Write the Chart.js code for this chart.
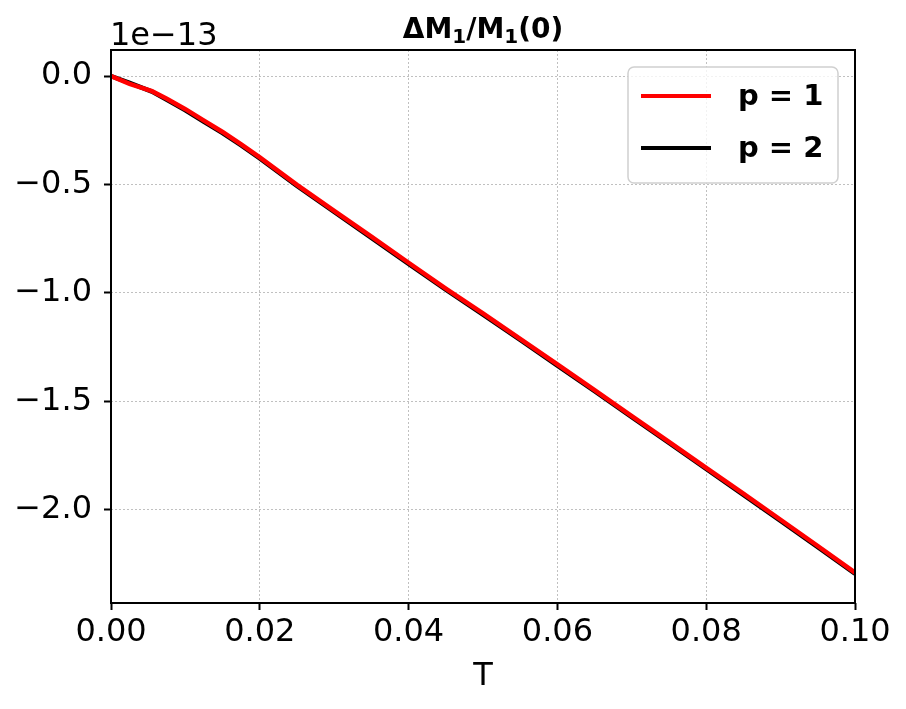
<!DOCTYPE html>
<html>
<head>
<meta charset="utf-8">
<script src="https://cdn.jsdelivr.net/npm/chart.js@4.4.0/dist/chart.umd.min.js"></script>
<style>
  html, body { margin: 0; padding: 0; background: white; }
  canvas { display: block; }
</style>
</head>
<body>
<canvas id="momentChart" width="906" height="709"></canvas>
<script>
// time points T
const tValues = [0, 0.0025, 0.0055, 0.0075, 0.01, 0.0125, 0.015, 0.0175, 0.02, 0.025, 0.03, 0.035,
    0.04, 0.045, 0.05, 0.055, 0.06, 0.065, 0.07, 0.075, 0.08, 0.085, 0.09, 0.095, 0.1];
// values in units of 1e-13
const p1Values = [0, -0.036, -0.070, -0.105, -0.153, -0.206, -0.258, -0.315, -0.375, -0.502, -0.622,
    -0.741, -0.861, -0.980, -1.095, -1.212, -1.330, -1.448, -1.568, -1.687, -1.807, -1.926, -2.046,
    -2.167, -2.290];
const p2Values = [0, -0.032, -0.072, -0.11, -0.158, -0.211, -0.263, -0.32, -0.38, -0.507, -0.627,
    -0.746, -0.866, -0.985, -1.100, -1.217, -1.335, -1.453, -1.573, -1.692, -1.812, -1.931, -2.051,
    -2.172, -2.295];
const seriesLabels = ['p = 1', 'p = 2'];
const xTickValues = [0, 0.02, 0.04, 0.06, 0.08, 0.1];
const yTickValues = [0, -0.5, -1.0, -1.5, -2.0];

function toPoints(values) {
    return values.map(function (v, i) {
        return { x: tValues[i], y: v };
    });
}

const FONT = 'DejaVu Sans';

// title pieces: [text, isSubscript]
const titleParts = [['ΔM', false], ['1', true], ['/M', false], ['1', true], ['(0)', false]];

const framePlugin = {
    id: 'frameAndText',
    afterDraw(chart) {
        const ctx = chart.ctx;
        const a = chart.chartArea;
        ctx.save();
        // axes frame
        ctx.strokeStyle = '#000';
        ctx.lineWidth = 2;
        ctx.strokeRect(a.left, a.top, a.right - a.left, a.bottom - a.top);

        // title, mathtext-like with subscripts
        const big = 'bold 28px "' + FONT + '"';
        const small = 'bold 20px "' + FONT + '"';
        let total = 0;
        titleParts.forEach(function (p) {
            ctx.font = p[1] ? small : big;
            total += ctx.measureText(p[0]).width;
        });
        let x = (a.left + a.right) / 2 - total / 2;
        ctx.fillStyle = '#000';
        ctx.textAlign = 'left';
        ctx.textBaseline = 'alphabetic';
        titleParts.forEach(function (p) {
            ctx.font = p[1] ? small : big;
            ctx.fillText(p[0], x, p[1] ? 43 : 38);
            x += ctx.measureText(p[0]).width;
        });

        // offset text
        ctx.font = '32px "' + FONT + '"';
        ctx.fillText('1e\u221213', a.left - 1, 45);

        // legend box
        const bx = 628, by = 67, bw = 210, bh = 116, r = 6;
        ctx.beginPath();
        ctx.roundRect(bx, by, bw, bh, r);
        ctx.fillStyle = 'rgba(255,255,255,0.8)';
        ctx.fill();
        ctx.strokeStyle = '#d0d0d0';
        ctx.lineWidth = 1.5;
        ctx.stroke();

        ctx.font = 'bold 29px "' + FONT + '"';
        ctx.textBaseline = 'middle';
        chart.data.datasets.forEach(function (ds, i) {
            const y = 96 + i * 52;
            ctx.beginPath();
            ctx.moveTo(641, y);
            ctx.lineTo(711, y);
            ctx.strokeStyle = ds.borderColor;
            ctx.lineWidth = 4;
            ctx.stroke();
            ctx.fillStyle = '#000';
            ctx.fillText(ds.label, 738, y + 1);
        });
        ctx.restore();
    }
};

const ctx = document.getElementById('momentChart');

new Chart(ctx, {
    type: 'line',
    data: {
        datasets: [{
            label: seriesLabels[0],
            data: toPoints(p1Values),
            borderColor: '#ff0000',
            borderWidth: 4.5,
            pointRadius: 0,
            tension: 0,
        }, {
            label: seriesLabels[1],
            data: toPoints(p2Values),
            borderColor: '#000000',
            borderWidth: 4.5,
            pointRadius: 0,
            tension: 0,
        }]
    },
    options: {
        responsive: false,
        animation: false,
        devicePixelRatio: 1,
        layout: {
            padding: { top: 50, right: 51, left: 0, bottom: 0 }
        },
        scales: {
            x: {
                type: 'linear',
                min: 0,
                max: 0.1,
                afterBuildTicks: function (scale) {
                    scale.ticks = xTickValues.map(function (v) { return { value: v }; });
                },
                afterFit: function (scale) {
                    scale.height = 106;
                },
                ticks: {
                    color: '#000',
                    font: { family: FONT, size: 32 },
                    padding: 3,
                    maxRotation: 0,
                    autoSkip: false,
                    callback: function (v) { return v.toFixed(2); }
                },
                grid: {
                    color: '#b0b0b0',
                    lineWidth: 0.8,
                    tickColor: '#000',
                    tickLength: 7,
                    tickWidth: 2,
                },
                border: { display: false, dash: [2, 2] },
                title: {
                    display: true,
                    text: 'T',
                    color: '#000',
                    font: { family: FONT, size: 32 },
                    padding: { top: 0, bottom: 13 }
                }
            },
            y: {
                type: 'linear',
                min: -2.43,
                max: 0.12,
                afterBuildTicks: function (scale) {
                    scale.ticks = yTickValues.map(function (v) { return { value: v }; });
                },
                afterFit: function (scale) {
                    scale.width = 111;
                },
                ticks: {
                    color: '#000',
                    font: { family: FONT, size: 32 },
                    padding: 12,
                    autoSkip: false,
                    callback: function (v) {
                        return (v < 0 ? '\u2212' : '') + Math.abs(v).toFixed(1);
                    }
                },
                grid: {
                    color: '#b0b0b0',
                    lineWidth: 0.8,
                    tickColor: '#000',
                    tickLength: 7,
                    tickWidth: 2,
                },
                border: { display: false, dash: [2, 2] }
            }
        },
        plugins: {
            legend: { display: false },
            title: { display: false },
            tooltip: { enabled: false }
        }
    },
    plugins: [framePlugin]
});
</script>
</body>
</html>
